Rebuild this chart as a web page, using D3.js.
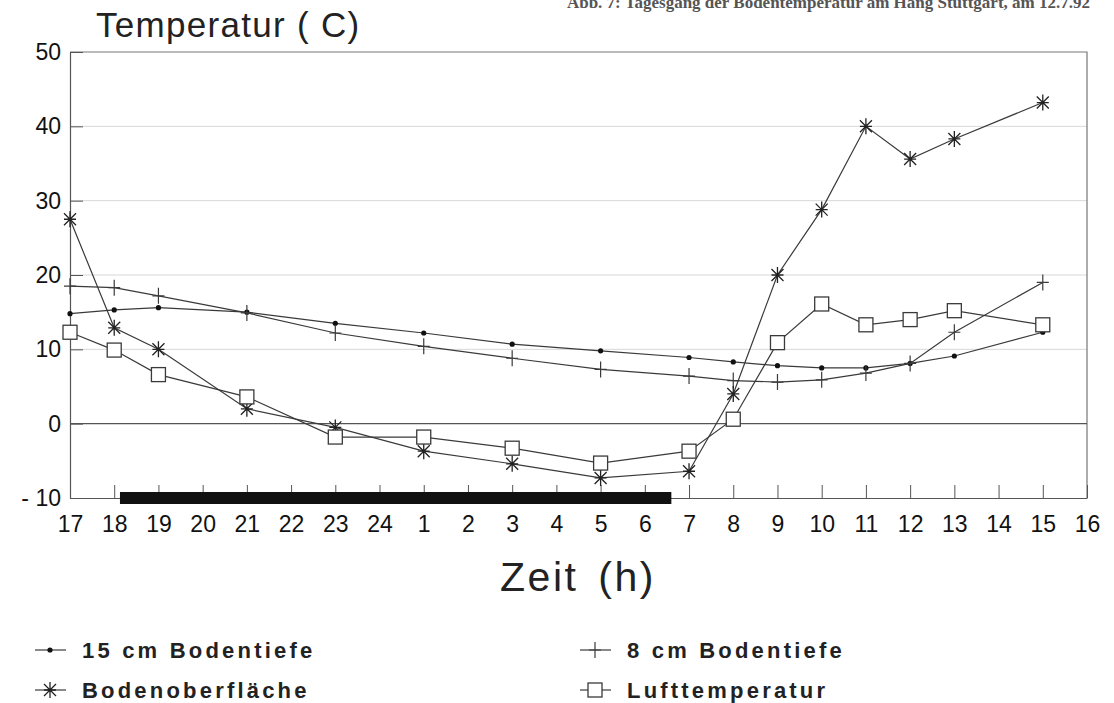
<!DOCTYPE html>
<html>
<head>
<meta charset="utf-8">
<script src="https://cdn.jsdelivr.net/npm/d3@7"></script>
<style>
  body { margin: 0; background: #fff; }
  svg { font-family: "Liberation Sans", Arial, sans-serif; }
</style>
</head>
<body>
<div id="chart"></div>
<script>
var svgWidth = 1114;
var svgHeight = 703;

// x axis categories (hours)
var hours = ["17","18","19","20","21","22","23","24","1","2","3","4","5","6","7","8","9","10","11","12","13","14","15","16"];
// hours that were measured
var measured = ["17","18","19","21","23","1","3","5","7","8","9","10","11","12","13","15"];

var boden15 = [14.8, 15.3, 15.6, 15.0, 13.5, 12.2, 10.7, 9.8, 8.9, 8.3, 7.8, 7.5, 7.5, 8.1, 9.1, 12.3];
var boden8 = [18.5, 18.3, 17.2, 14.9, 12.2, 10.4, 8.8, 7.3, 6.4, 5.8, 5.6, 5.9, 6.8, 8.1, 12.3, 19.0];
var oberflaeche = [27.5, 12.9, 10.0, 2.0, -0.5, -3.7, -5.4, -7.3, -6.4, 4.0, 20.0, 28.8, 40.0, 35.6, 38.3, 43.2];
var luft = [12.3, 9.9, 6.6, 3.6, -1.8, -1.8, -3.3, -5.3, -3.7, 0.6, 10.9, 16.1, 13.3, 14.0, 15.2, 13.3];

var yTicks = [-10, 0, 10, 20, 30, 40, 50];
// night period, in positions along the hour axis (18:10 .. 6:40)
var night = [1.13, 13.6];

var seriesNames = ["15 cm Bodentiefe", "8 cm Bodentiefe", "Bodenoberfläche", "Lufttemperatur"];
var seriesMarks = ["dot", "plus", "star", "square"];
var seriesValues = [boden15, boden8, oberflaeche, luft];

var plotLeft = 70, plotRight = 1087, plotTop = 52, plotBottom = 498;
var ink = "#3a3a3a";

var svg = d3.select("#chart")
  .append("svg")
  .attr("width", svgWidth)
  .attr("height", svgHeight);

var x = d3.scalePoint().domain(hours).range([plotLeft, plotRight]);
var xPos = d3.scaleLinear().domain([0, hours.length - 1]).range([plotLeft, plotRight]);
var y = d3.scaleLinear().domain([-10, 50]).range([plotBottom, plotTop]);

// header line, cut by the top of the page
svg.append("text")
  .attr("x", 1090)
  .attr("y", 8)
  .attr("text-anchor", "end")
  .style("font-family", "'Liberation Serif', serif")
  .style("font-weight", "bold")
  .style("font-size", "17px")
  .attr("fill", "#555")
  .text("Abb. 7: Tagesgang der Bodentemperatur am Hang Stuttgart, am 12.7.92");

// grid lines
svg.append("g")
  .selectAll("line")
  .data(yTicks.filter(d => d > 0 && d < 50))
  .enter()
  .append("line")
  .attr("x1", plotLeft)
  .attr("x2", plotRight)
  .attr("y1", d => y(d))
  .attr("y2", d => y(d))
  .attr("stroke", "#d8d8d8")
  .attr("stroke-width", 1);

// frame: top and right
svg.append("path")
  .attr("d", `M${plotLeft},${y(50)}H${plotRight}V${y(-10)}`)
  .attr("fill", "none")
  .attr("stroke", "#777")
  .attr("stroke-width", 1.2);

// zero line
svg.append("line")
  .attr("x1", plotLeft).attr("x2", plotRight)
  .attr("y1", y(0)).attr("y2", y(0))
  .attr("stroke", "#555")
  .attr("stroke-width", 1.2);

// axes
var bottomAxis = d3.axisBottom(x).tickSizeInner(-13).tickSizeOuter(0).tickPadding(18);
var leftAxis = d3.axisLeft(y).tickValues(yTicks).tickSizeInner(-13).tickSizeOuter(0).tickPadding(9);

var gx = svg.append("g")
  .attr("transform", `translate(0, ${plotBottom})`)
  .call(bottomAxis);
var gy = svg.append("g")
  .attr("transform", `translate(${plotLeft}, 0)`)
  .call(leftAxis);

[gx, gy].forEach(function(g) {
  g.select(".domain").attr("stroke", "#555").attr("stroke-width", 1.2);
  g.selectAll(".tick line").attr("stroke", "#555");
  g.selectAll(".tick text")
    .attr("fill", "#111")
    .style("font-size", "23px");
});
gy.selectAll(".tick text").text(d => d < 0 ? "- " + Math.abs(d) : d);

// night bar
svg.append("rect")
  .attr("x", xPos(night[0]))
  .attr("width", xPos(night[1]) - xPos(night[0]))
  .attr("y", plotBottom - 6)
  .attr("height", 12)
  .attr("fill", "#111");

// markers
function drawMark(g, type, cx, cy) {
  if (type === "dot") {
    g.append("circle").attr("cx", cx).attr("cy", cy).attr("r", 2.6).attr("fill", "#111");
  } else if (type === "plus") {
    g.append("path")
      .attr("d", `M${cx},${cy - 8}V${cy + 8}M${cx - 6},${cy}H${cx + 6}`)
      .attr("stroke", ink).attr("stroke-width", 1.2);
  } else if (type === "star") {
    var r = 8, d = r * 0.75;
    g.append("path")
      .attr("d", `M${cx},${cy - r}V${cy + r}M${cx - d},${cy - d}L${cx + d},${cy + d}M${cx - d},${cy + d}L${cx + d},${cy - d}M${cx - 6},${cy}H${cx + 6}`)
      .attr("stroke", "#222").attr("stroke-width", 1.3);
  } else if (type === "square") {
    g.append("rect")
      .attr("x", cx - 7).attr("y", cy - 7)
      .attr("width", 14).attr("height", 14)
      .attr("fill", "#fff").attr("stroke", ink).attr("stroke-width", 1.3);
  }
}

var line = d3.line()
  .x((d, i) => x(measured[i]))
  .y(d => y(d));

seriesValues.forEach(function(vals, s) {
  var g = svg.append("g");
  g.append("path")
    .datum(vals)
    .attr("d", line)
    .attr("fill", "none")
    .attr("stroke", ink)
    .attr("stroke-width", 1.2);
  vals.forEach(function(v, i) {
    drawMark(g, seriesMarks[s], x(measured[i]), y(v));
  });
});

// titles
svg.append("text")
  .attr("x", 96)
  .attr("y", 37)
  .style("font-size", "35px")
  .style("letter-spacing", "1.3px")
  .attr("fill", "#222")
  .text("Temperatur ( C)");

svg.append("text")
  .attr("x", 578)
  .attr("y", 591)
  .attr("text-anchor", "middle")
  .style("font-size", "41px")
  .style("letter-spacing", "2.5px")
  .style("word-spacing", "6px")
  .attr("fill", "#222")
  .text("Zeit (h)");

// legend
var legendPos = [[35, 650], [580, 650], [35, 690], [580, 690]];
seriesNames.forEach(function(name, s) {
  var lx = legendPos[s][0], ly = legendPos[s][1];
  var g = svg.append("g");
  g.append("line")
    .attr("x1", lx).attr("x2", lx + 31)
    .attr("y1", ly).attr("y2", ly)
    .attr("stroke", ink).attr("stroke-width", 1.2);
  drawMark(g, seriesMarks[s], lx + 15, ly);
  g.append("text")
    .attr("x", lx + 47)
    .attr("y", ly + 8)
    .style("font-size", "22px")
    .style("font-weight", "bold")
    .style("letter-spacing", "3.2px")
    .attr("fill", "#222")
    .text(name);
});
</script>
</body>
</html>
